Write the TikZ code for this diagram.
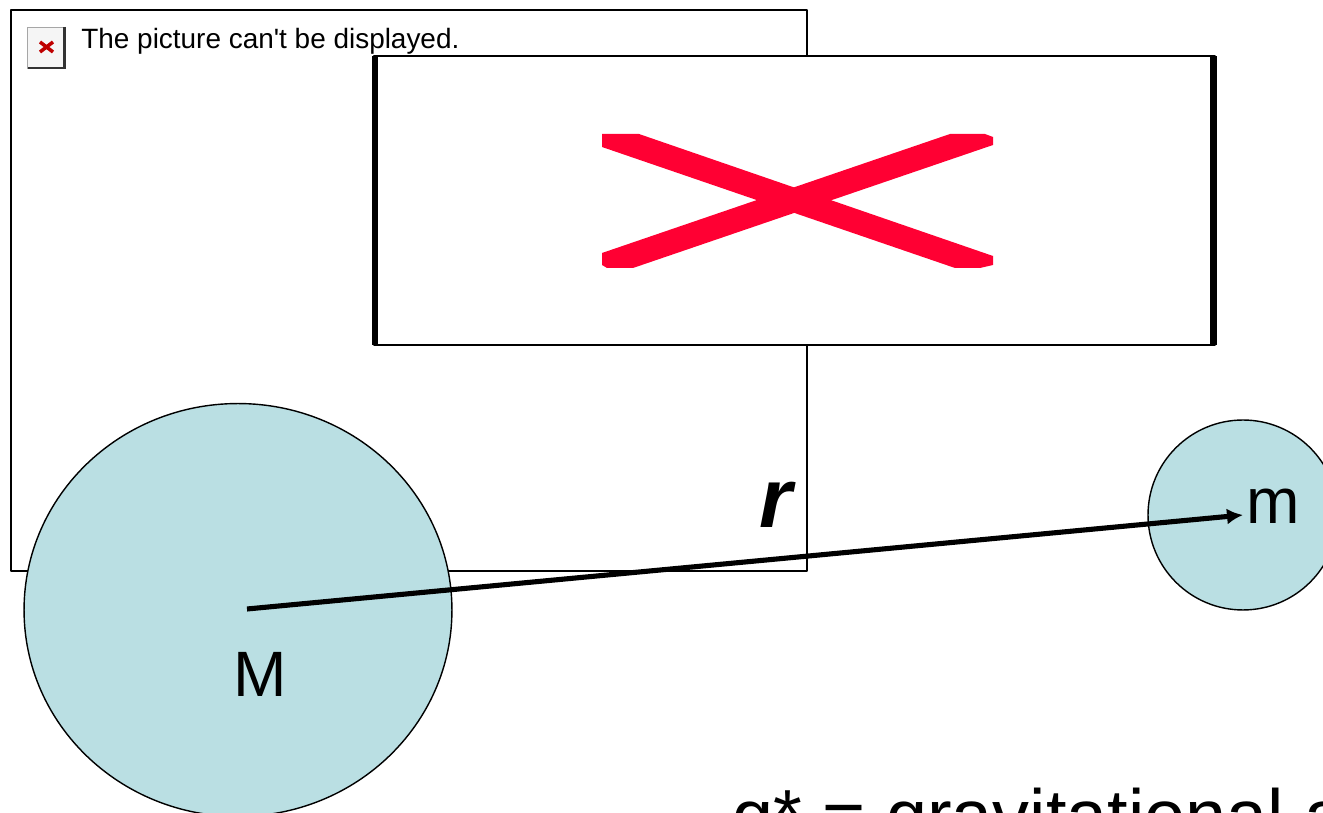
\documentclass[tikz,border=0pt]{standalone}
\usepackage{fontspec}
\setmainfont{Liberation Sans}
\usetikzlibrary{arrows.meta}
\usetikzlibrary{shapes.geometric}
\definecolor{massblue}{RGB}{186,223,227}
\definecolor{crossred}{RGB}{255,0,51}
\tikzset{
    framebox/.style = {rectangle, draw=black, line width=1.2pt, line join=round, fill=white, inner sep=0pt, outer sep=0pt},
    iconbox/.style = {rectangle, draw=black!35, line width=0.4pt, fill=black!4, inner sep=0pt, outer sep=0pt, minimum width=0.74cm, minimum height=0.82cm},
    mass/.style = {ellipse, draw=black, line width=0.8pt, fill=massblue, inner sep=0pt, outer sep=0pt},
    masstext/.style = {font=\fontsize{36.5}{36.5}\selectfont},
    edgen/.style = {-{Latex[length=0.32cm,width=0.32cm]},line width=2.9pt},
    edgei/.style = {line width=1.4pt,black!80},
    edgex/.style = {line width=2pt,red!75!black},
}
\begin{document}
\begin{tikzpicture}[x=0.02cm,y=-0.02cm]
\useasboundingbox (0,0) rectangle (1323,813);
%
\node[framebox, minimum width=15.92cm, minimum height=11.22cm] at (409,290.5) (frameA) {};
\node[iconbox] at (46,47.5) (icon) {};
\draw[edgei] (icon.north east) -- (icon.south east) -- (icon.south west);
\coordinate (xa) at (40,42);
\coordinate (xb) at (53,52);
\coordinate (xc) at (53,42);
\coordinate (xd) at (40,52);
\draw[edgex] (xa) -- (xb);
\draw[edgex] (xc) -- (xd);
\node[anchor=base west, inner sep=0pt, font=\fontsize{15.9}{15.9}\selectfont] at (81,49) (msg) {The picture can\textquotesingle t be displayed.};
%
\node[framebox, minimum width=16.82cm, minimum height=5.78cm] at (794.5,200.5) (frameB) {};
\draw[line width=3.1pt] ([xshift=0.6pt]frameB.north west) -- ([xshift=0.6pt]frameB.south west);
\draw[line width=3.6pt] ([xshift=-0.8pt]frameB.north east) -- ([xshift=-0.8pt]frameB.south east);
\fill[crossred] (602,134) -- (639,134) -- (993,256) -- (993,265) -- (980,268) -- (955,268) -- (602,147) -- cycle;
\fill[crossred] (950,134) -- (985,134) -- (993,137) -- (993,145) -- (633,268) -- (607,268) -- (602,265) -- (602,253) -- cycle;
%
\node[mass, minimum width=8.56cm, minimum height=8.26cm] at (238,610) (M) {};
\node[mass, minimum width=3.8cm, minimum height=3.8cm] at (1243,515) (m) {};
\node[masstext, anchor=base] at (260,697) (Mtext) {M};
\node[masstext, anchor=base] at (1273,524) (mtext) {m};
\node[anchor=base, font=\fontsize{48}{48}\selectfont\bfseries\itshape] at (776,528) (rtext) {r};
%
\coordinate (start) at (247,609);
\coordinate (end) at (1243,515);
\draw[edgen] (start) -- (end);
%
\node[anchor=base west, inner sep=0pt, font=\fontsize{42}{42}\selectfont] at (732,842) (gtext) {g* = gravitational a};
\end{tikzpicture}
\end{document}
